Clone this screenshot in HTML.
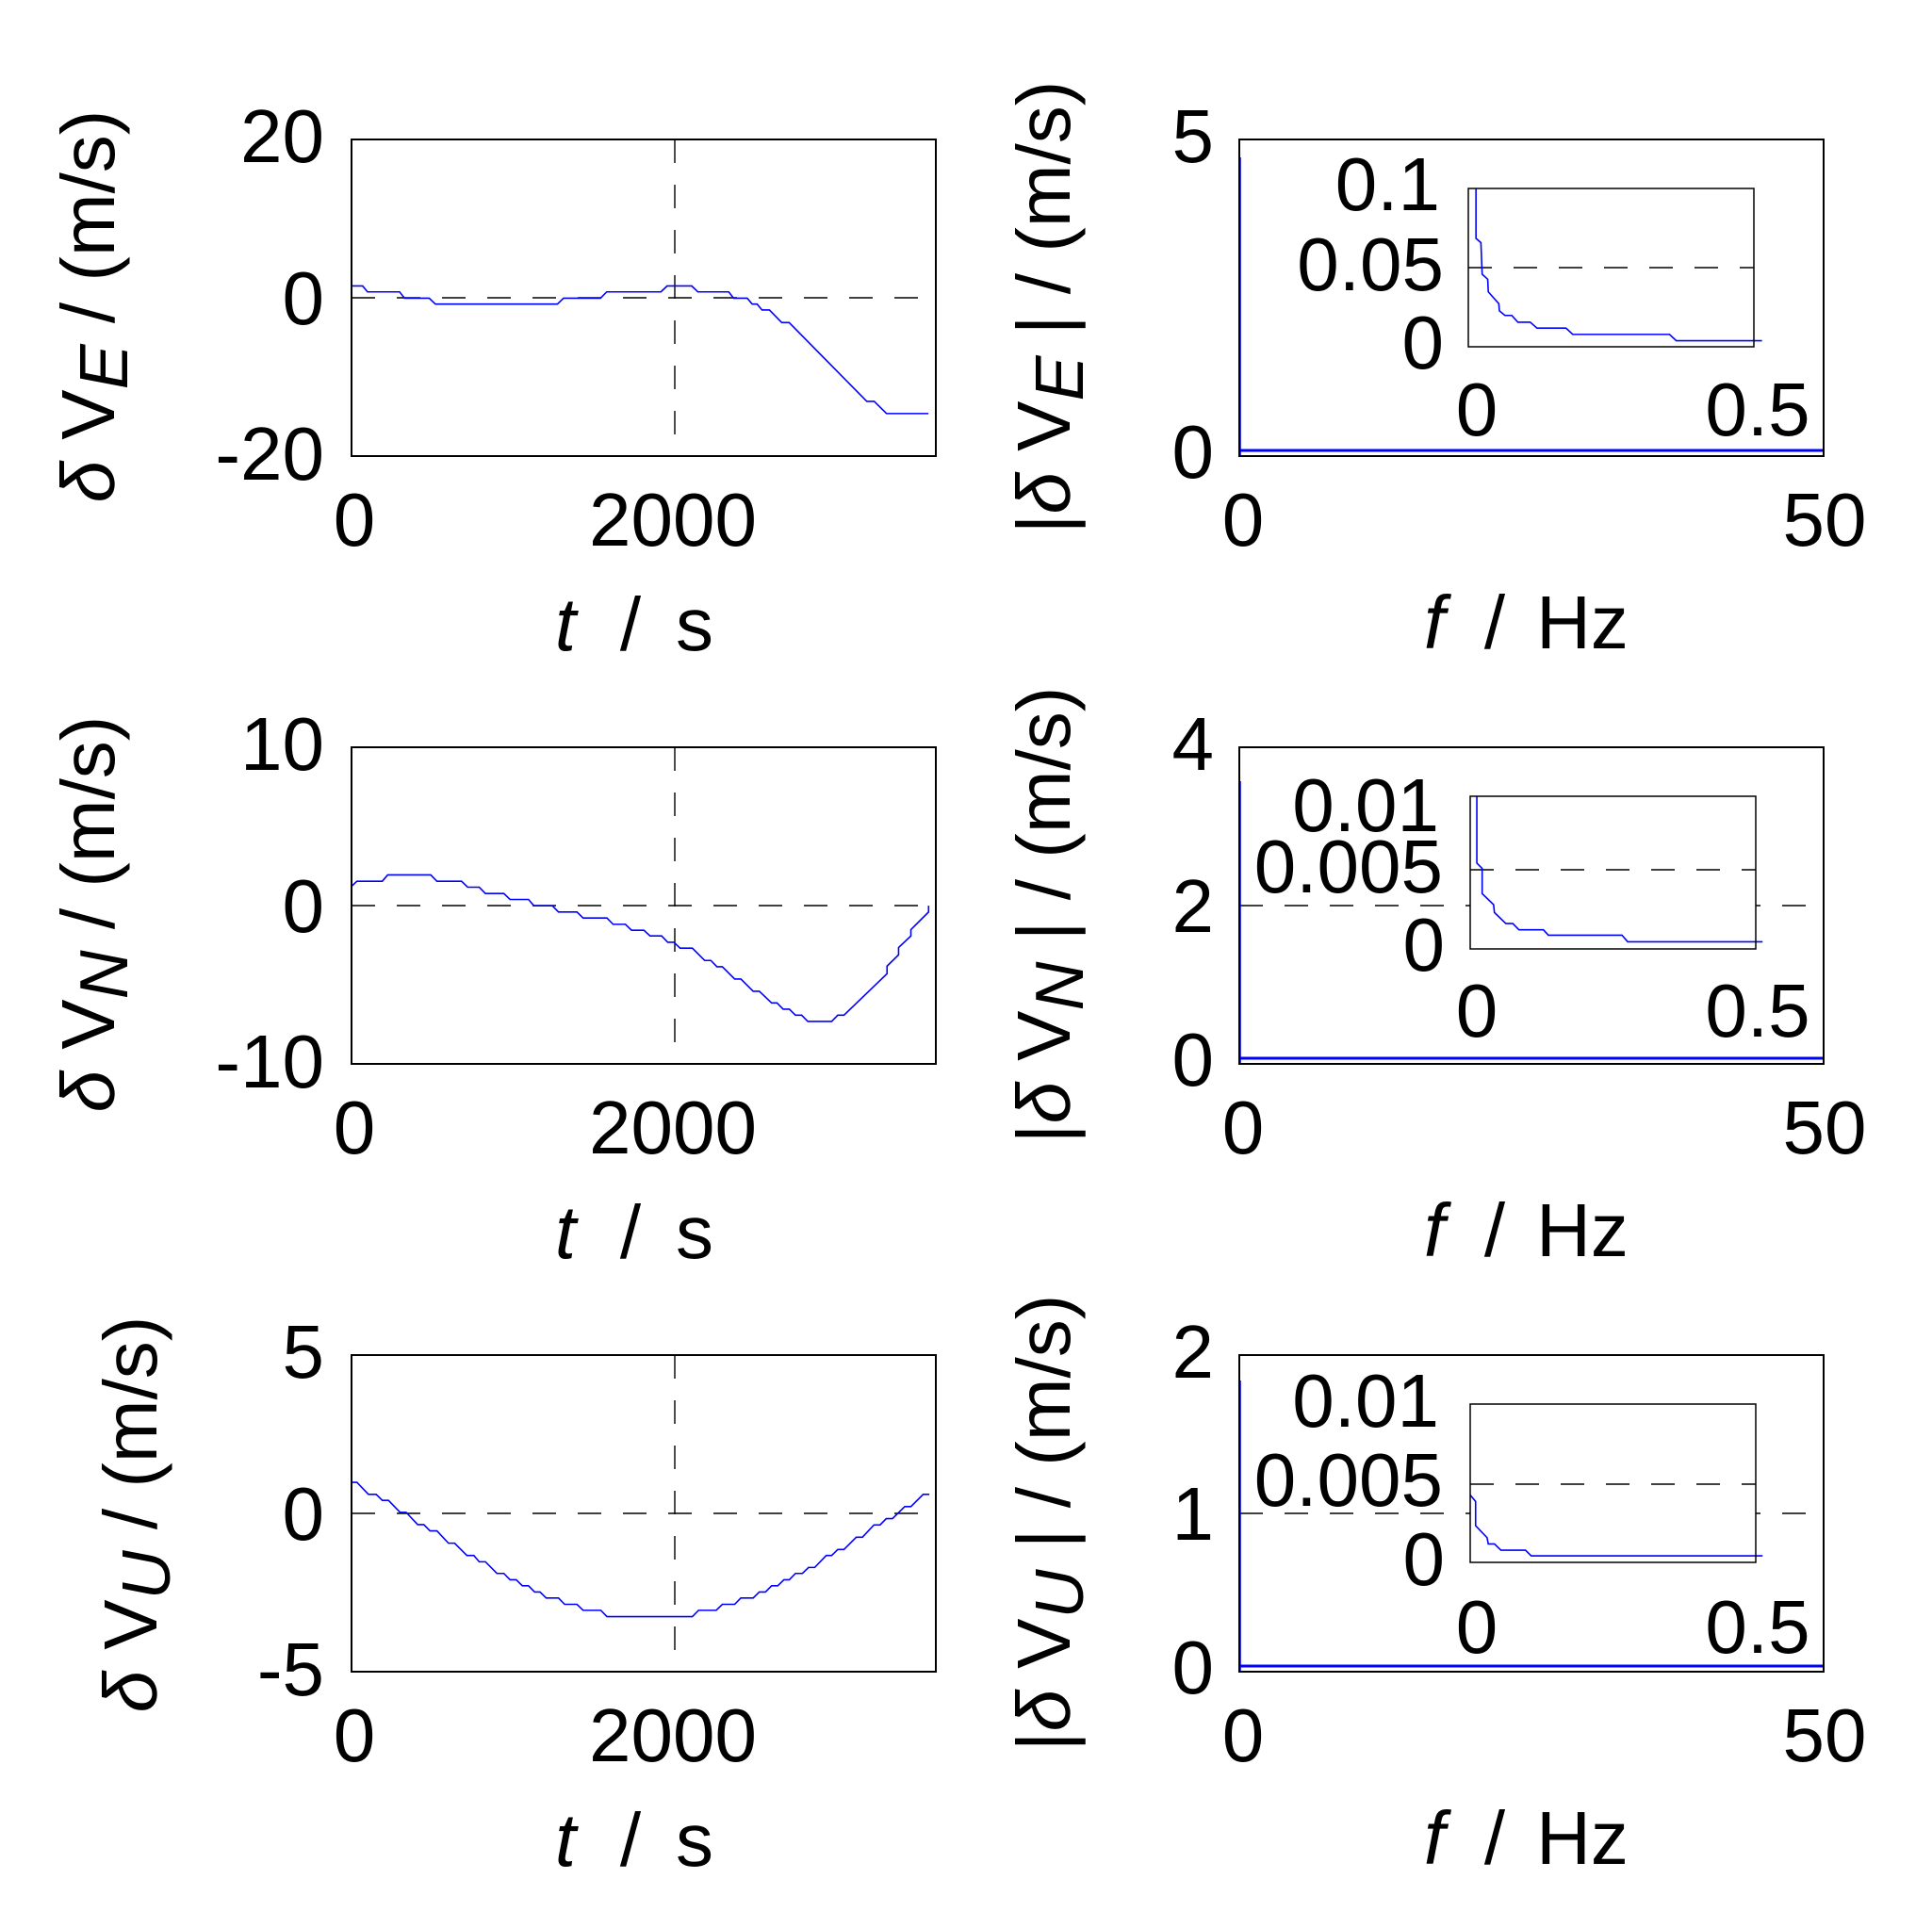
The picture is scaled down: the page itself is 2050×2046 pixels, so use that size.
<!DOCTYPE html>
<html><head><meta charset="utf-8"><style>
html,body{margin:0;padding:0;background:#fff;}
svg{display:block;}
text{font-family:"Liberation Sans",Arial,sans-serif;font-size:80px;fill:#000;}
.it{font-style:italic;}
.box{fill:none;stroke:#000;stroke-width:2;}
.ibox{fill:none;stroke:#000;stroke-width:1.5;}
.dash{stroke:#000;stroke-width:1.4;stroke-dasharray:25 23;fill:none;}
.ser{fill:none;stroke:#0000ff;stroke-width:1.6;vector-effect:non-scaling-stroke;}
</style></head><body>
<svg width="2050" height="2046" viewBox="0 0 2050 2046" xmlns="http://www.w3.org/2000/svg">
<rect width="2050" height="2046" fill="#fff"/>

<!-- ============ ROW 1 LEFT ============ -->
<line class="dash" x1="373" y1="316" x2="993" y2="316"/>
<line class="dash" x1="716" y1="148" x2="716" y2="484"/>
<g transform="translate(373,148) scale(0.654,0.4468) translate(-572,-330)">
<polyline class="ser" points="572,678 590,678 598,692 650,692 658,707 698,707 708,721 906,721 916,707 976,707 986,692 1074,692 1084,678 1124,678 1134,692 1184,692 1192,707 1214,707 1222,721 1230,721 1238,735 1250,735 1270,765 1282,765 1408,952 1420,952 1440,981 1508,981"/>
</g>
<rect class="box" x="373" y="148" width="620" height="336"/>
<text x="344" y="172" text-anchor="end">20</text>
<text x="344" y="344" text-anchor="end">0</text>
<text x="344" y="509" text-anchor="end">-20</text>
<text x="376" y="579" text-anchor="middle">0</text>
<text x="714" y="579" text-anchor="middle">2000</text>
<text class="it" x="600" y="690" text-anchor="middle">t</text>
<text x="669" y="690" text-anchor="middle">/</text>
<text x="737" y="690" text-anchor="middle">s</text>
<text transform="translate(121,325) rotate(-90)" text-anchor="middle"><tspan class="it">δ</tspan> V<tspan class="it" font-size="72" dy="14">E</tspan><tspan dy="-14"> / (m/s)</tspan></text>

<!-- ============ ROW 1 RIGHT ============ -->
<line x1="1316" y1="167" x2="1316" y2="484" stroke="#00f" stroke-width="1.5"/>
<line x1="1315" y1="478" x2="1935" y2="478" stroke="#00f" stroke-width="3"/>
<rect class="box" x="1315" y="148" width="620" height="336"/>
<text x="1288" y="172" text-anchor="end">5</text>
<text x="1288" y="507" text-anchor="end">0</text>
<text x="1319" y="579" text-anchor="middle">0</text>
<text x="1936" y="579" text-anchor="middle">50</text>
<text class="it" x="1522" y="688" text-anchor="middle">f</text>
<text x="1586" y="688" text-anchor="middle">/</text>
<text x="1679" y="688" text-anchor="middle">Hz</text>
<text transform="translate(1135,326) rotate(-90)" text-anchor="middle">|<tspan class="it">δ</tspan> V<tspan class="it" font-size="72" dy="14">E</tspan><tspan dy="-14"> | / (m/s)</tspan></text>
<!-- inset 1 -->
<rect x="1558" y="200" width="303" height="168" fill="#fff"/>
<line class="dash" x1="1558" y1="284" x2="1861" y2="284"/>
<g transform="translate(1315,148) scale(0.654,0.4468) translate(-445,-330)">
<polyline class="ser" points="829,447 829,565 837,575 839,650 848,662 849,692 866,720 867,737 876,748 887,748 897,764 917,764 928,778 975,778 986,793 1143,793 1154,808 1293,808"/>
</g>
<rect class="ibox" x="1558" y="200" width="303" height="168"/>
<text x="1528" y="223" text-anchor="end">0.1</text>
<text x="1532" y="308" text-anchor="end">0.05</text>
<text x="1532" y="391" text-anchor="end">0</text>
<text x="1567" y="462" text-anchor="middle">0</text>
<text x="1865" y="462" text-anchor="middle">0.5</text>

<!-- ============ ROW 2 LEFT ============ -->
<line class="dash" x1="373" y1="961" x2="993" y2="961"/>
<line class="dash" x1="716" y1="793" x2="716" y2="1129"/>
<g transform="translate(373,793) scale(0.4082,0.3337) translate(-8,-10)">
<polyline class="ser" points="8,452 22,436 88,436 102,416 214,416 230,436 294,436 310,455 340,455 356,475 404,475 420,494 468,494 482,514 530,514 546,534 594,534 610,553 672,553 688,573 720,573 736,592 768,592 784,610 814,610 830,630 846,630 862,649 894,649 926,688 942,688 958,708 972,708 1004,747 1020,747 1052,786 1068,786 1100,823 1114,823 1130,843 1146,843 1162,862 1178,862 1194,882 1256,882 1272,862 1288,862 1400,730 1400,706 1430,670 1430,647 1462,610 1462,590 1508,534 1508,514"/>
</g>
<rect class="box" x="373" y="793" width="620" height="336"/>
<text x="344" y="817" text-anchor="end">10</text>
<text x="344" y="989" text-anchor="end">0</text>
<text x="344" y="1154" text-anchor="end">-10</text>
<text x="376" y="1224" text-anchor="middle">0</text>
<text x="714" y="1224" text-anchor="middle">2000</text>
<text class="it" x="600" y="1335" text-anchor="middle">t</text>
<text x="669" y="1335" text-anchor="middle">/</text>
<text x="737" y="1335" text-anchor="middle">s</text>
<text transform="translate(121,970) rotate(-90)" text-anchor="middle"><tspan class="it">δ</tspan> V<tspan class="it" font-size="72" dy="14">N</tspan><tspan dy="-14"> / (m/s)</tspan></text>

<!-- ============ ROW 2 RIGHT ============ -->
<line class="dash" x1="1315" y1="961" x2="1935" y2="961"/>
<line x1="1316" y1="829" x2="1316" y2="1129" stroke="#00f" stroke-width="1.5"/>
<line x1="1315" y1="1123" x2="1935" y2="1123" stroke="#00f" stroke-width="3"/>
<rect class="box" x="1315" y="793" width="620" height="336"/>
<text x="1288" y="817" text-anchor="end">4</text>
<text x="1288" y="989" text-anchor="end">2</text>
<text x="1288" y="1152" text-anchor="end">0</text>
<text x="1319" y="1224" text-anchor="middle">0</text>
<text x="1936" y="1224" text-anchor="middle">50</text>
<text class="it" x="1522" y="1333" text-anchor="middle">f</text>
<text x="1586" y="1333" text-anchor="middle">/</text>
<text x="1679" y="1333" text-anchor="middle">Hz</text>
<text transform="translate(1135,971) rotate(-90)" text-anchor="middle">|<tspan class="it">δ</tspan> V<tspan class="it" font-size="72" dy="14">N</tspan><tspan dy="-14"> | / (m/s)</tspan></text>
<!-- inset 2 -->
<rect x="1560" y="845" width="303" height="162" fill="#fff"/>
<line class="dash" x1="1560" y1="923" x2="1863" y2="923"/>
<g transform="translate(1315,793) scale(0.4338,0.334) translate(-36,-40)">
<polyline class="ser" points="617,196 617,408 630,425 630,505 658,540 660,565 688,600 705,600 720,620 780,620 792,637 972,637 986,658 1316,658"/>
</g>
<rect class="ibox" x="1560" y="845" width="303" height="162"/>
<text x="1527" y="882" text-anchor="end">0.01</text>
<text x="1531" y="947" text-anchor="end">0.005</text>
<text x="1533" y="1030" text-anchor="end">0</text>
<text x="1567" y="1100" text-anchor="middle">0</text>
<text x="1865" y="1100" text-anchor="middle">0.5</text>

<!-- ============ ROW 3 LEFT ============ -->
<line class="dash" x1="373" y1="1606" x2="993" y2="1606"/>
<line class="dash" x1="716" y1="1438" x2="716" y2="1774"/>
<g transform="translate(373,1438) scale(0.4082,0.3344) translate(-8,1)">
<polyline class="ser" points="8,403 22,403 52,441 72,441 88,460 104,460 134,498 150,498 180,537 196,537 212,557 230,557 260,596 276,596 308,635 326,635 340,655 356,655 386,692 404,692 420,712 436,712 452,731 468,731 484,751 498,751 514,770 546,770 562,790 594,790 610,809 656,809 672,829 894,829 910,809 956,809 972,790 1004,790 1020,770 1052,770 1068,751 1084,751 1100,731 1116,731 1132,712 1146,712 1162,692 1180,692 1196,673 1212,673 1242,635 1256,635 1272,616 1288,616 1320,577 1336,577 1366,538 1382,538 1398,518 1414,518 1446,480 1462,480 1494,441 1510,441"/>
</g>
<rect class="box" x="373" y="1438" width="620" height="336"/>
<text x="344" y="1462" text-anchor="end">5</text>
<text x="344" y="1634" text-anchor="end">0</text>
<text x="344" y="1799" text-anchor="end">-5</text>
<text x="376" y="1869" text-anchor="middle">0</text>
<text x="714" y="1869" text-anchor="middle">2000</text>
<text class="it" x="600" y="1980" text-anchor="middle">t</text>
<text x="669" y="1980" text-anchor="middle">/</text>
<text x="737" y="1980" text-anchor="middle">s</text>
<text transform="translate(166,1607) rotate(-90)" text-anchor="middle"><tspan class="it">δ</tspan> V<tspan class="it" font-size="72" dy="14">U</tspan><tspan dy="-14"> / (m/s)</tspan></text>

<!-- ============ ROW 3 RIGHT ============ -->
<line class="dash" x1="1315" y1="1606" x2="1935" y2="1606"/>
<line x1="1316" y1="1465" x2="1316" y2="1774" stroke="#00f" stroke-width="1.5"/>
<line x1="1315" y1="1768" x2="1935" y2="1768" stroke="#00f" stroke-width="3"/>
<rect class="box" x="1315" y="1438" width="620" height="336"/>
<text x="1288" y="1462" text-anchor="end">2</text>
<text x="1288" y="1634" text-anchor="end">1</text>
<text x="1288" y="1797" text-anchor="end">0</text>
<text x="1319" y="1869" text-anchor="middle">0</text>
<text x="1936" y="1869" text-anchor="middle">50</text>
<text class="it" x="1522" y="1978" text-anchor="middle">f</text>
<text x="1586" y="1978" text-anchor="middle">/</text>
<text x="1679" y="1978" text-anchor="middle">Hz</text>
<text transform="translate(1135,1616) rotate(-90)" text-anchor="middle">|<tspan class="it">δ</tspan> V<tspan class="it" font-size="72" dy="14">U</tspan><tspan dy="-14"> | / (m/s)</tspan></text>
<!-- inset 3 -->
<rect x="1560" y="1490" width="303" height="168" fill="#fff"/>
<line class="dash" x1="1560" y1="1575" x2="1863" y2="1575"/>
<g transform="translate(1315,1438) scale(0.4338,0.334) translate(-36,-40)">
<polyline class="ser" points="601,485 614,505 614,582 642,620 645,640 660,640 676,660 736,660 750,678 1316,678"/>
</g>
<rect class="ibox" x="1560" y="1490" width="303" height="168"/>
<text x="1527" y="1514" text-anchor="end">0.01</text>
<text x="1531" y="1598" text-anchor="end">0.005</text>
<text x="1533" y="1682" text-anchor="end">0</text>
<text x="1567" y="1754" text-anchor="middle">0</text>
<text x="1865" y="1754" text-anchor="middle">0.5</text>
</svg>
</body></html>
